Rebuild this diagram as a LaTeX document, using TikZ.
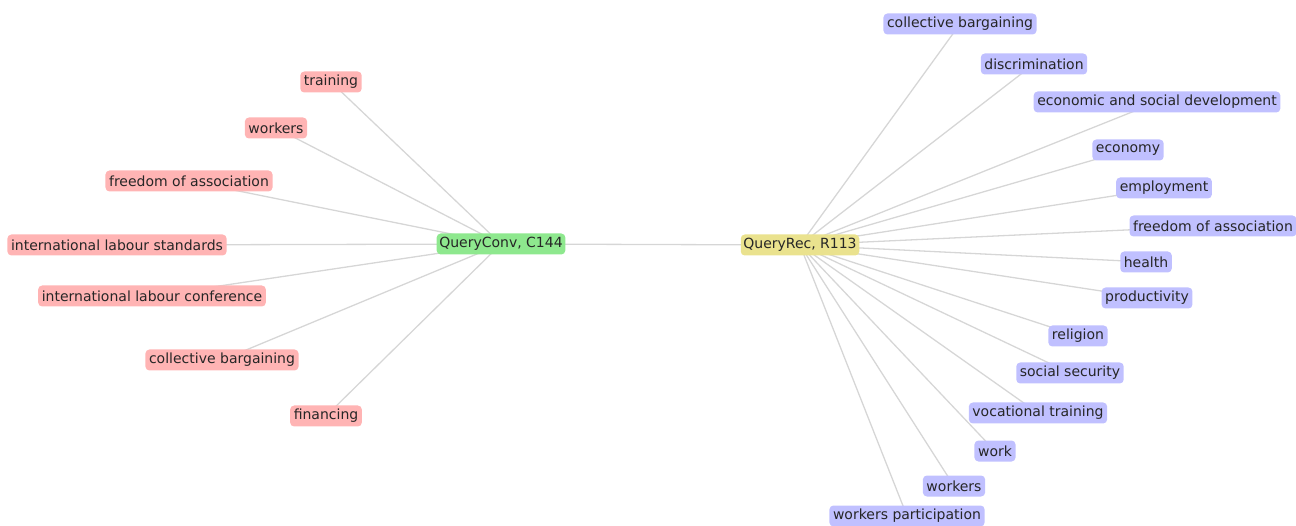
\documentclass[tikz,border=0pt]{standalone}
\usepackage{fontspec}
\setmainfont{DejaVu Sans}
\usetikzlibrary{backgrounds}
\definecolor{convred}{HTML}{FFB4B4}
\definecolor{recblue}{HTML}{C0C0FF}
\definecolor{convgreen}{HTML}{8EE88E}
\definecolor{recyellow}{HTML}{EAE28E}
\definecolor{edgegray}{HTML}{D6D6D6}
\tikzset{
  every picture/.style={line cap=round, line join=round},
  % terms and queries: rounded tags, fixed height
  tag/.style={rounded corners=4pt, minimum height=21pt, inner xsep=3.6pt, inner ysep=0pt,
    text=black!85, font=\fontsize{14}{16}\selectfont},
  convterm/.style={tag, fill=convred},
  recterm/.style={tag, fill=recblue},
  query/.style={tag, inner xsep=2.6pt},
  link/.style={edgegray, line width=1.3pt},
}
\begin{document}
\begin{tikzpicture}[x=1pt, y=-1pt]
  \useasboundingbox (0,0) rectangle (1296,526);
  % the two queries
  \node[query, fill=convgreen] (conv) at (501,244) {QueryConv, C144};
  \node[query, fill=recyellow] (rec) at (800,245) {QueryRec, R113};
  % convention terms
  \node[convterm] (c1) at (331,82) {training};
  \node[convterm] (c2) at (276,128) {workers};
  \node[convterm] (c3) at (189,181) {freedom of association};
  \node[convterm] (c4) at (117,245) {international labour standards};
  \node[convterm] (c5) at (152,296) {international labour conference};
  \node[convterm] (c6) at (222,360) {collective bargaining};
  \node[convterm] (c7) at (326,416) {financing};
  % recommendation terms
  \node[recterm] (r1) at (960,24) {collective bargaining};
  \node[recterm] (r2) at (1034,64) {discrimination};
  \node[recterm] (r3) at (1157,102) {economic and social development};
  \node[recterm] (r4) at (1128,150) {economy};
  \node[recterm] (r5) at (1164,188) {employment};
  \node[recterm] (r6) at (1213,226) {freedom of association};
  \node[recterm] (r7) at (1146,262) {health};
  \node[recterm] (r8) at (1147,298) {productivity};
  \node[recterm] (r9) at (1078,336) {religion};
  \node[recterm] (r10) at (1070,373) {social security};
  \node[recterm] (r11) at (1038,413) {vocational training};
  \node[recterm] (r12) at (995,451) {work};
  \node[recterm] (r13) at (954,486) {workers};
  \node[recterm] (r14) at (907,516) {workers participation};
  % links behind the tags
  \begin{scope}[on background layer]
    \draw[link] (conv.center) -- (rec.center);
    \foreach \i in {1,...,7}
      \draw[link] (conv.center) -- (c\i.center);
    \foreach \i in {1,...,14}
      \draw[link] (rec.center) -- (r\i.center);
  \end{scope}
\end{tikzpicture}
\end{document}
